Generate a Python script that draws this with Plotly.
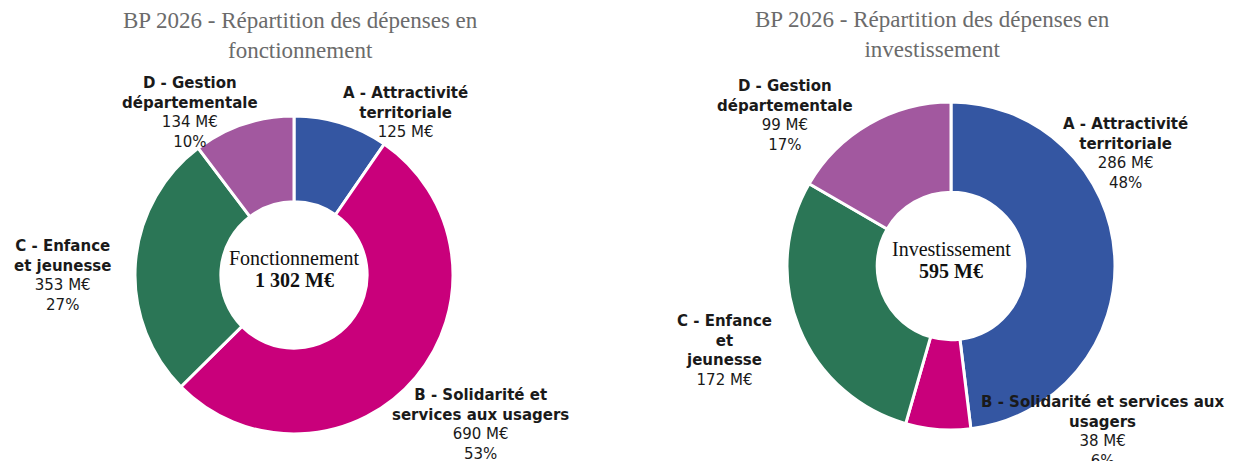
import plotly.graph_objects as go

W, H = 1234, 461

categories = ["A - Attractivité territoriale", "B - Solidarité et services aux usagers",
              "C - Enfance et jeunesse", "D - Gestion départementale"]
colors = ["#3456A2", "#C9007B", "#2B7656", "#A2589F"]

fonct_values = [125, 690, 353, 134]
fonct_pct = ["", "53%", "27%", "10%"]
fonct_label_lines = [["A - Attractivité", "territoriale"],
                     ["B - Solidarité et", "services aux usagers"],
                     ["C - Enfance", "et jeunesse"],
                     ["D - Gestion", "départementale"]]
fonct_total = "1 302 M€"

inv_values = [286, 38, 172, 99]
inv_pct = ["48%", "6%", "", "17%"]
inv_label_lines = [["A - Attractivité", "territoriale"],
                   ["B - Solidarité et services aux", "usagers"],
                   ["C - Enfance", "et", "jeunesse"],
                   ["D - Gestion", "départementale"]]
inv_total = "595 M€"

titles = ["BP 2026 - Répartition des dépenses en<br>fonctionnement",
          "BP 2026 - Répartition des dépenses en<br>investissement"]
center_names = ["Fonctionnement", "Investissement"]

# layout (pixels)
pies = [dict(cx=294, cy=275, r=159, hole=0.46),
        dict(cx=951, cy=266, r=164, hole=0.45)]
label_pos = [[(405, 112), (480, 424), (62, 275), (190, 113)],
             [(1125, 153), (1102, 431), (724, 350), (785, 115)]]
title_pos = [(300, 36), (932, 34)]

def px_x(x):
    return x / W

def px_y(y):
    return 1 - y / H

fig = go.Figure()
annotations = []
datasets = [(fonct_values, fonct_pct, fonct_label_lines, fonct_total),
            (inv_values, inv_pct, inv_label_lines, inv_total)]

for i, (vals, pcts, lines, total) in enumerate(datasets):
    p = pies[i]
    fig.add_trace(go.Pie(
        labels=categories, values=vals, hole=p["hole"], sort=False,
        direction="clockwise", rotation=0, textinfo="none",
        marker=dict(colors=colors, line=dict(color="white", width=3)),
        domain=dict(x=[px_x(p["cx"] - p["r"]), px_x(p["cx"] + p["r"])],
                    y=[px_y(p["cy"] + p["r"]), px_y(p["cy"] - p["r"])]),
        showlegend=False, hoverinfo="label+value+percent"))
    for j, v in enumerate(vals):
        parts = ["<b>%s</b>" % l for l in lines[j]] + ["%d M€" % v]
        if pcts[j]:
            parts.append(pcts[j])
        x, y = label_pos[i][j]
        annotations.append(dict(
            text="<br>".join(parts), x=px_x(x), y=px_y(y), xref="paper", yref="paper",
            xanchor="center", yanchor="middle", showarrow=False, align="center",
            font=dict(family="DejaVu Sans", size=15, color="#1a1a1a")))
    annotations.append(dict(
        text=center_names[i],
        x=px_x(p["cx"]), y=px_y(p["cy"] - 17), xref="paper", yref="paper",
        xanchor="center", yanchor="middle", showarrow=False,
        font=dict(family="Liberation Serif", size=20, color="#111111")))
    annotations.append(dict(
        text="<b>%s</b>" % total,
        x=px_x(p["cx"]), y=px_y(p["cy"] + 5), xref="paper", yref="paper",
        xanchor="center", yanchor="middle", showarrow=False,
        font=dict(family="Liberation Serif", size=20, color="#111111")))
    tx, ty = title_pos[i]
    annotations.append(dict(
        text=titles[i], x=px_x(tx), y=px_y(ty), xref="paper", yref="paper",
        xanchor="center", yanchor="middle", showarrow=False, align="center",
        font=dict(family="Liberation Serif", size=23, color="#6b6b6b")))

fig.update_layout(width=W, height=H, margin=dict(l=0, r=0, t=0, b=0),
                  paper_bgcolor="white", plot_bgcolor="white",
                  annotations=annotations)
fig.write_html("out.html", config={"displayModeBar": False},
               post_script="document.body.style.margin='0';document.body.style.overflow='hidden';")
